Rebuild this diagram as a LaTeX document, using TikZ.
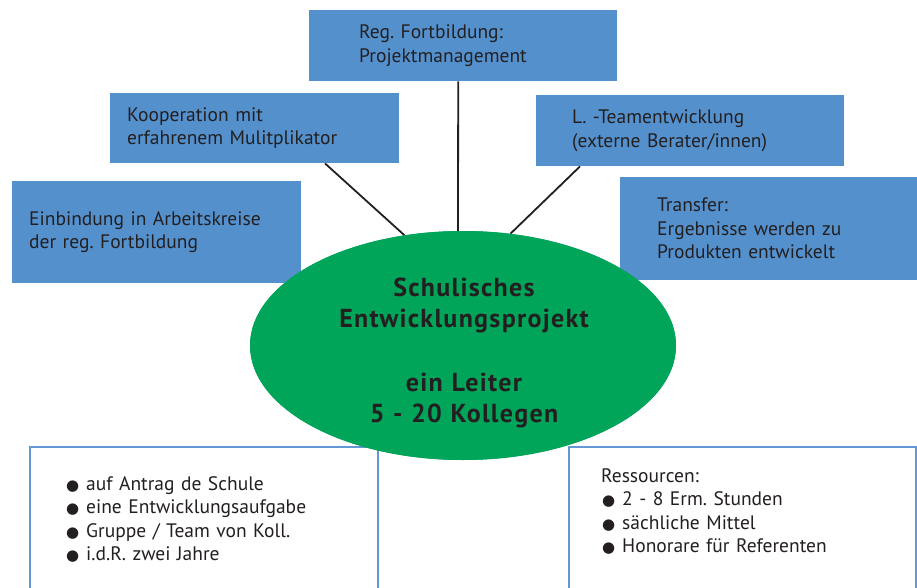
\documentclass[tikz,border=0pt]{standalone}
\usepackage{fontspec}
\setmainfont{PT Sans}
\newfontfamily\dejavu{DejaVu Sans}
\usetikzlibrary{shapes.geometric,calc}
\definecolor{boxblue}{RGB}{84,144,204}
\definecolor{projgreen}{RGB}{0,165,90}
\definecolor{txt}{RGB}{35,31,32}
\definecolor{frameblue}{RGB}{100,152,212}
\newcommand\blt{\makebox[21pt][l]{\hspace{1pt}{\dejavu\fontsize{15}{15}\selectfont ●}}}
\frenchspacing
\begin{document}
\frenchspacing
\begin{tikzpicture}[x=1pt,y=-1pt,
  every node/.style={text=txt},
  bluebox/.style={fill=boxblue, draw=none, inner ysep=0pt, align=left, anchor=north west,
    font=\fontsize{19.5}{23.5}\selectfont},
  framebox/.style={draw=frameblue, line width=1.5pt, fill=white, anchor=north west, inner sep=0pt},
  listtext/.style={align=left, anchor=base west, inner sep=0pt, font=\fontsize{19.5}{23.6}\selectfont},
  conn/.style={draw=txt, line width=1.8pt},
]
\useasboundingbox (0,0) rectangle (917,588);
\clip (0,0) rectangle (917,588);
\fill[white] (0,0) rectangle (917,588);

% bottom frames
\node[framebox, minimum width=348pt, minimum height=170pt] (leftframe) at (29,446) {};
\node[framebox, minimum width=347pt, minimum height=170pt] (rightframe) at (568,446) {};

% blue boxes
\node[bluebox, minimum height=71pt, text width=208pt, inner xsep=50pt] (top) at (309,10)
  {Reg. Fortbildung:\\Projektmanagement};
\node[bluebox, minimum height=70pt, text width=255pt, inner xsep=17pt] (koop) at (110,93)
  {Kooperation mit\\erfahrenem Mulitplikator};
\node[bluebox, minimum height=71pt, text width=236pt, inner xsep=36pt] (lteam) at (536,95)
  {L. -Teamentwicklung\\(externe Berater/innen)};
\node[bluebox, minimum height=102pt, text width=255pt, inner xsep=17pt] (einb) at (12,181)
  {Einbindung in Arbeitskreise\\der reg. Fortbildung};
\node[bluebox, minimum height=103pt, text width=223pt, inner xsep=37pt] (transfer) at (620,177)
  {Transfer:\\Ergebnisse werden zu\\Produkten entwickelt};

% ellipse and connectors
\node[ellipse, fill=projgreen, minimum width=426pt, minimum height=229pt, inner sep=0pt] (proj) at (463,345.5) {};
\draw[conn] ([xshift=215pt]koop.south west) -- (proj.118.7);
\draw[conn] ([xshift=-5pt]top.south) -- ([xshift=-5pt]proj.north);
\draw[conn] ([xshift=44pt]lteam.south west) -- (proj.67.3);
\fill[projgreen] (proj.center) ellipse[x radius=213pt, y radius=114.5pt];

\node[align=center, anchor=base, inner sep=0pt, text width=360pt,
  font=\bfseries\fontsize{26}{31.5}\selectfont\addfontfeature{LetterSpace=5}] (projtxt) at (464,296)
  {Schulisches\\Entwicklungsprojekt\\[32pt]ein Leiter\\5 - 20 Kollegen};

% lists
\node[listtext, text width=300pt] (leftlist) at (65,490)
  {\blt auf Antrag de Schule\\\blt eine Entwicklungsaufgabe\\\blt Gruppe / Team von Koll.\\\blt i.d.R. zwei Jahre};
\node[listtext, text width=300pt] (rightlist) at (601,482)
  {Ressourcen:\\\blt 2 - 8 Erm. Stunden\\\blt sächliche Mittel\\\blt Honorare für Referenten};
\end{tikzpicture}
\end{document}
